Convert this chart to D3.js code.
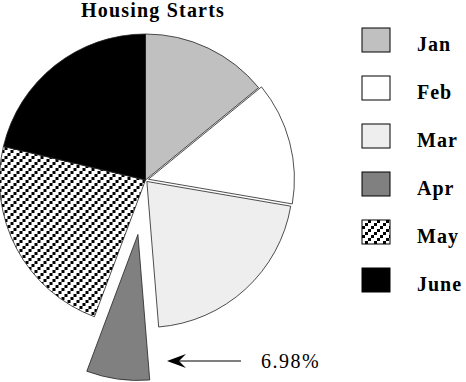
<!DOCTYPE html>
<html>
<head>
<meta charset="utf-8">
<script src="https://cdn.jsdelivr.net/npm/d3@7"></script>
<style>
  html, body { margin: 0; padding: 0; background: #fff; }
  svg { display: block; }
  text { font-family: "Liberation Serif", "Times New Roman", serif; }
</style>
</head>
<body>
<svg id="chart" width="466" height="382"></svg>
<script>
// data (share of housing starts, %)
const months = ['Jan', 'Feb', 'Mar', 'Apr', 'May', 'June'];
const shares = [14.1, 13.6, 21.0, 6.98, 23.0, 21.3];
const calloutMonth = 'Apr';

const cx = 145.5;
const cy = 180;
const radius = 146;

const fills = {
    Jan: '#c0c0c0',
    Feb: '#ffffff',
    Mar: '#eeeeee',
    Apr: '#808080',
    May: 'url(#dots)',
    June: '#000000'
};
// how far each slice is pulled out of the pie
const pullOut = { Feb: 3, Mar: 2, Apr: 55 };

const svg = d3.select('#chart');

// dotted upward diagonal used for May
const pat = svg.append('defs').append('pattern')
    .attr('id', 'dots')
    .attr('patternUnits', 'userSpaceOnUse')
    .attr('width', 9)
    .attr('height', 9);
pat.append('rect').attr('width', 9).attr('height', 9).attr('fill', '#fff');
[[0, 6], [3, 3], [6, 0]].forEach(([x, y]) => {
    pat.append('rect')
        .attr('x', x).attr('y', y)
        .attr('width', 3).attr('height', 3)
        .attr('fill', '#000');
});

svg.append('text')
    .attr('x', 153)
    .attr('y', 17)
    .attr('text-anchor', 'middle')
    .attr('font-size', 20)
    .attr('font-weight', 'bold')
    .attr('letter-spacing', 1.2)
    .text('Housing Starts');

const pie = d3.pie().sort(null).value((d) => d.value);
const arc = d3.arc().innerRadius(0).outerRadius(radius);
const arcs = pie(months.map((m, i) => ({ month: m, value: shares[i] })));

const g = svg.append('g').attr('transform', `translate(${cx},${cy})`);

g.selectAll('path')
    .data(arcs)
    .enter()
    .append('path')
    .attr('d', arc)
    .attr('transform', (d) => {
        const k = pullOut[d.data.month] || 0;
        const a = (d.startAngle + d.endAngle) / 2;
        return `translate(${k * Math.sin(a)},${-k * Math.cos(a)})`;
    })
    .attr('fill', (d) => fills[d.data.month])
    .attr('stroke', '#222')
    .attr('stroke-width', 0.8);

// legend
const legend = svg.append('g')
    .selectAll('g')
    .data(months)
    .enter()
    .append('g')
    .attr('transform', (d, i) => `translate(362,${28 + i * 48})`);

legend.append('rect')
    .attr('width', 28)
    .attr('height', 24)
    .attr('fill', (d) => fills[d])
    .attr('stroke', '#000')
    .attr('stroke-width', 1);

legend.append('text')
    .attr('x', 55)
    .attr('y', 23)
    .attr('font-size', 20)
    .attr('font-weight', 'bold')
    .attr('letter-spacing', 1)
    .text((d) => d);

// callout for the pulled-out slice
const ci = months.indexOf(calloutMonth);
const arrow = svg.append('g');
arrow.append('line')
    .attr('x1', 172).attr('y1', 361)
    .attr('x2', 241).attr('y2', 361)
    .attr('stroke', '#000')
    .attr('stroke-width', 1.2);
arrow.append('path')
    .attr('d', 'M167,361 L186,354 L179,361 L186,368 Z')
    .attr('fill', '#000');

svg.append('text')
    .attr('x', 261)
    .attr('y', 368)
    .attr('font-size', 20)
    .attr('letter-spacing', 1.5)
    .text(shares[ci].toFixed(2) + '%');
</script>
</body>
</html>
